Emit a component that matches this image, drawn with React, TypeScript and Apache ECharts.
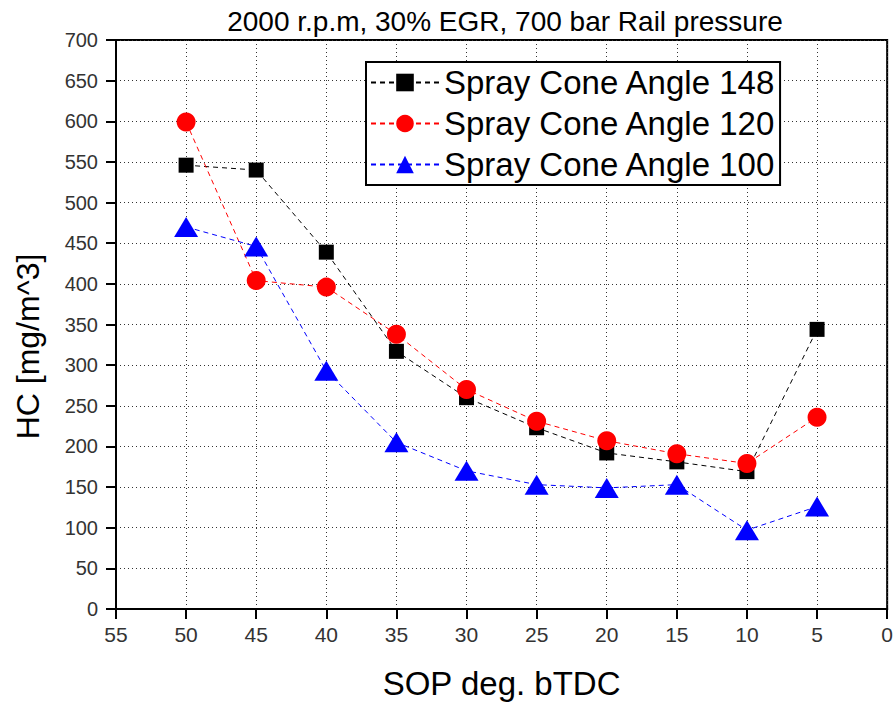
import React, { useEffect, useRef } from "react";
import * as echarts from "echarts";

const sop = [50, 45, 40, 35, 30, 25, 20, 15, 10, 5];
const angle148 = [546, 540, 439, 317, 260, 223, 192, 181, 169, 344];
const angle120 = [599, 404, 396, 338, 270, 231, 207, 191, 179, 236];
const angle100 = [470, 446, 293, 205, 170, 153, 149, 153, 97, 126];

const titleText = "2000 r.p.m, 30% EGR, 700 bar Rail pressure";
const seriesNames = ["Spray Cone Angle 148", "Spray Cone Angle 120", "Spray Cone Angle 100"];

const FONT = "Liberation Sans, Arial, sans-serif";

function pairs(ys: number[]) {
  return sop.map((x, i) => [x, ys[i]]);
}

export default function App() {
  const ref = useRef<HTMLDivElement>(null);
  useEffect(() => {
    if (!ref.current) return;
    const chart = echarts.init(ref.current, undefined, { renderer: "svg" });
    const mk = (name: string, data: number[], color: string, symbol: string, size: any) => ({
      name,
      type: "line",
      data: pairs(data),
      symbol,
      symbolSize: size,
      itemStyle: { color, opacity: 1 },
      lineStyle: { color, width: 1, type: [5, 4] },
      z: 3,
    });
    chart.setOption({
      animation: false,
      backgroundColor: "#ffffff",
      textStyle: { fontFamily: FONT },
      title: {
        text: titleText,
        left: 500,
        textAlign: "center",
        top: 2,
        textStyle: { fontSize: 28, fontWeight: "normal", color: "#000", fontFamily: FONT },
      },
      grid: {
        left: 116,
        top: 40,
        right: 5,
        bottom: 96,
        show: true,
        borderColor: "#000",
        borderWidth: 2,
        backgroundColor: "transparent",
      },
      legend: {
        orient: "vertical",
        left: 366,
        top: 62,
        data: seriesNames,
        backgroundColor: "#fff",
        borderColor: "#000",
        borderWidth: 2,
        padding: [4, 4, 4, 4],
        itemGap: 8,
        itemWidth: 68,
        itemHeight: 22,
        textStyle: { fontSize: 33, color: "#000", fontFamily: FONT },
      },
      xAxis: {
        type: "value",
        min: 0,
        max: 55,
        interval: 5,
        inverse: true,
        name: "SOP deg. bTDC",
        nameLocation: "middle",
        nameGap: 58,
        nameTextStyle: { fontSize: 33, color: "#000", fontFamily: FONT },
        axisLine: { onZero: false, lineStyle: { color: "#000", width: 2 } },
        axisTick: { show: true, inside: false, length: 10, lineStyle: { color: "#000", width: 2 } },
        axisLabel: { fontSize: 21, color: "#333", margin: 15, fontFamily: FONT },
        splitLine: { show: true, lineStyle: { color: "#333", width: 1, type: [1, 3] } },
      },
      yAxis: {
        type: "value",
        min: 0,
        max: 700,
        interval: 50,
        name: "HC [mg/m^3]",
        nameLocation: "middle",
        nameGap: 72,
        nameTextStyle: { fontSize: 32, color: "#000", fontFamily: FONT, padding: [0, 44, 0, 0] },
        axisLine: { onZero: false, lineStyle: { color: "#000", width: 2 } },
        axisTick: { show: true, inside: false, length: 10, lineStyle: { color: "#000", width: 2 } },
        axisLabel: { fontSize: 20, color: "#333", margin: 18, fontFamily: FONT },
        splitLine: { show: true, lineStyle: { color: "#333", width: 1, type: [1, 3] } },
      },
      series: [
        mk(seriesNames[0], angle148, "#000000", "rect", 15),
        mk(seriesNames[1], angle120, "#ff0000", "circle", 19),
        mk(seriesNames[2], angle100, "#0000ff", "triangle", [24, 20]),
      ],
    });
    return () => chart.dispose();
  }, []);
  return <div ref={ref} style={{ width: 896, height: 705, position: "absolute", left: 0, top: 0 }} />;
}
